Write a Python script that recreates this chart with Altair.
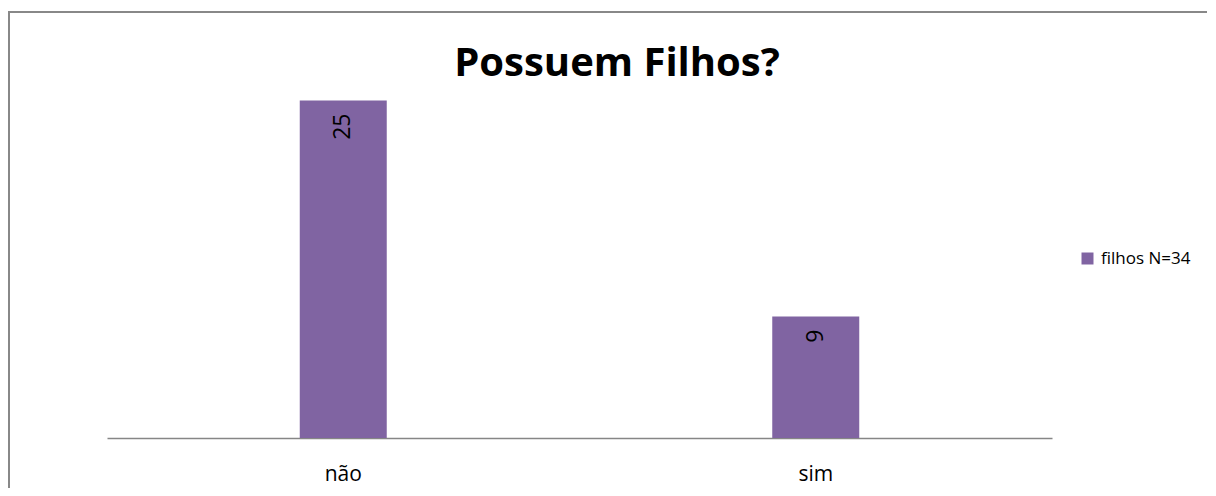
import altair as alt
import pandas as pd

# ---- data ----
categorias = ["não", "sim"]
valores = [25, 9]
serie = ["filhos N=34", "filhos N=34"]
titulo = ["Possuem Filhos?"]

df = pd.DataFrame({"cat": categorias, "val": valores, "serie": serie})

FONT = "Open Sans"
PURPLE = "#8064A2"
GRAY = "#888888"

x_enc = alt.X(
    "cat:N",
    sort=categorias,
    scale=alt.Scale(paddingInner=0, paddingOuter=0),
    axis=alt.Axis(
        title=None, labelAngle=0, ticks=False, grid=False,
        domainColor="#868686", domainWidth=1.5,
        labelFontSize=21, labelFont=FONT, labelColor="#000000",
        labelPadding=25,
    ),
)
y_enc = alt.Y("val:Q", scale=alt.Scale(domain=[0, 30]), axis=None)

border_df = pd.DataFrame({"b": [0]})
border_left = alt.Chart(border_df).mark_rule(color=GRAY, strokeWidth=2).encode(
    x=alt.value(-98), y=alt.value(-21), y2=alt.value(470)
)
border_top = alt.Chart(border_df).mark_rule(color=GRAY, strokeWidth=2).encode(
    x=alt.value(-99), x2=alt.value(1100), y=alt.value(-21)
)

bars = alt.Chart(df).mark_bar(size=87).encode(
    x=x_enc,
    y=y_enc,
    color=alt.Color(
        "serie:N",
        scale=alt.Scale(range=[PURPLE]),
        legend=alt.Legend(
            title=None, orient="none", legendX=972, legendY=217,
            symbolType="square", symbolSize=144, symbolStrokeWidth=0,
            labelFontSize=17, labelFont=FONT, labelColor="#000000",
            labelOffset=5, padding=0,
        ),
    ),
)

labels = alt.Chart(df).mark_text(
    angle=270, align="right", baseline="middle", dx=-13,
    fontSize=23, font=FONT, color="#000000",
).encode(x=x_enc, y=y_enc, text="val:Q")

title = alt.Chart(pd.DataFrame({"t": titulo})).mark_text(
    fontSize=40, fontWeight="bold", font=FONT, color="#000000",
    align="center", baseline="alphabetic",
).encode(x=alt.value(510), y=alt.value(43), text="t:N")

chart = alt.layer(border_left, border_top, bars, labels, title).properties(
    width=945, height=405,
    autosize=alt.AutoSizeParams(type="none"),
    padding={"left": 99, "top": 25, "right": 156, "bottom": 50},
).configure_view(stroke=None)

chart.save("out.html", embed_options={"renderer": "svg", "actions": False})
